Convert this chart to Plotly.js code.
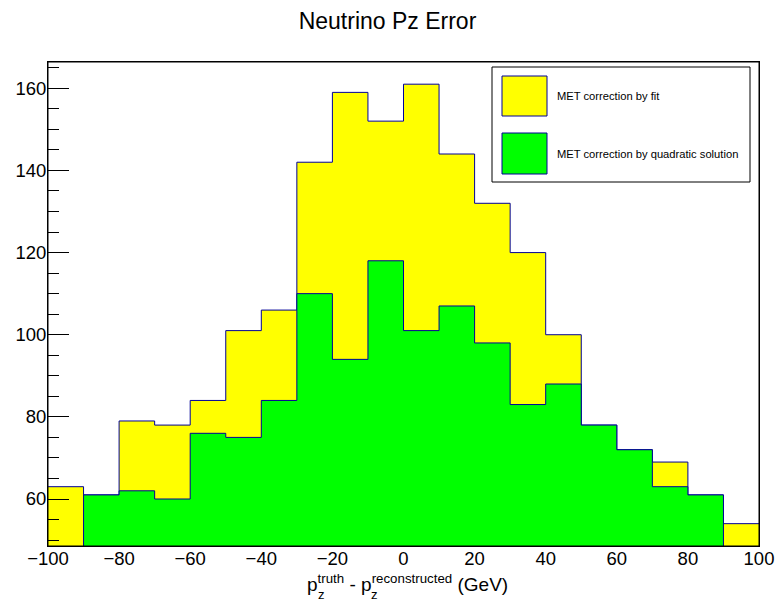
<!DOCTYPE html>
<html>
<head>
<meta charset="utf-8">
<script src="https://cdn.plot.ly/plotly-3.0.1.min.js"></script>
<style>html,body{margin:0;padding:0;background:#fff;} #chart{width:775px;height:602px;}</style>
</head>
<body>
<div id="chart"></div>
<script>
// ---- data ----
const binEdges = [-100,-90,-80,-70,-60,-50,-40,-30,-20,-10,0,10,20,30,40,50,60,70,80,90,100];
const fitCounts  = [63,61,79,78,84,101,106,142,159,152,161,144,132,120,100,78,72,69,61,54];
const quadCounts = [47,61,62,60,76,75,84,110,94,118,101,107,98,83,88,78,72,63,61,44];
const seriesNames = ["MET correction by fit", "MET correction by quadratic solution"];
const seriesColors = ["#ffff00", "#00ff00"];
const titleText = "Neutrino Pz Error";
const xTitleText = "p<sup>truth</sup> - p<sup>reconstructed</sup> (GeV)";
const xTitleSub = "z";

// ---- geometry ----
const W = 775, H = 602;
const M = {l: 48, r: 16, t: 62, b: 56};
const PW = W - M.l - M.r, PH = H - M.t - M.b;
const px = x => (x - M.l) / PW;
const py = y => (H - M.b - y) / PH;
const FONT = "Liberation Sans, Arial, Helvetica, sans-serif";
const LINE = "#000099";

function stepTrace(counts, color, name) {
  return {
    type: "scatter", mode: "lines", name: name,
    x: binEdges,
    y: counts.concat([counts[counts.length - 1]]),
    line: {shape: "hv", color: LINE, width: 1},
    fill: "tozeroy", fillcolor: color,
    hoverinfo: "skip", showlegend: false
  };
}

const traces = [
  stepTrace(fitCounts, seriesColors[0], seriesNames[0]),
  stepTrace(quadCounts, seriesColors[1], seriesNames[1])
];

const legendBox = {x0: 492, x1: 750, y0: 67, y1: 182};
const swatches = [{x0: 502, x1: 547, y0: 76, y1: 116, ty: 96}, {x0: 502, x1: 547, y0: 133, y1: 174, ty: 154}];

const shapes = [
  {type: "rect", xref: "paper", yref: "paper", x0: 0, x1: 1, y0: 0, y1: 1, line: {color: "#000", width: 1}, layer: "above"},
  {type: "rect", xref: "paper", yref: "paper", x0: px(legendBox.x0), x1: px(legendBox.x1), y0: py(legendBox.y1), y1: py(legendBox.y0), fillcolor: "#fff", line: {color: "#000", width: 1}, layer: "above"}
];
const annotations = [];
swatches.forEach((s, i) => {
  shapes.push({type: "rect", xref: "paper", yref: "paper", x0: px(s.x0), x1: px(s.x1), y0: py(s.y1), y1: py(s.y0), fillcolor: seriesColors[i], line: {color: LINE, width: 1}, layer: "above"});
  annotations.push({xref: "paper", yref: "paper", x: px(555), y: py(s.ty), xanchor: "left", yanchor: "middle", showarrow: false, text: seriesNames[i], font: {family: FONT, size: 11.2, color: "#000"}});
});

// x-axis title with stacked sub/superscripts
annotations.push({xref: "paper", yref: "paper", x: px(305), y: py(583), xanchor: "left", yanchor: "middle", showarrow: false, text: xTitleText, font: {family: FONT, size: 19, color: "#000"}});
annotations.push({xref: "paper", yref: "paper", x: px(315.5), y: py(594), xanchor: "left", yanchor: "middle", showarrow: false, text: xTitleSub, font: {family: FONT, size: 13, color: "#000"}});
annotations.push({xref: "paper", yref: "paper", x: px(369), y: py(594), xanchor: "left", yanchor: "middle", showarrow: false, text: xTitleSub, font: {family: FONT, size: 13, color: "#000"}});

const layout = {
  width: W, height: H,
  margin: M,
  paper_bgcolor: "#fff", plot_bgcolor: "#fff",
  font: {family: FONT, color: "#000"},
  title: {text: titleText, font: {family: FONT, size: 23, color: "#000"}, x: 0.5, xref: "container", xanchor: "center", y: 1 - 21 / H, yref: "container", yanchor: "middle"},
  showlegend: false,
  xaxis: {
    range: [-100, 100], tick0: -100, dtick: 20, ticks: "inside", ticklen: 14, tickcolor: "#000", tickwidth: 1,
    minor: {dtick: 5, ticks: "inside", ticklen: 7, tickcolor: "#000"},
    showgrid: false, zeroline: false, showline: true, linecolor: "#000", mirror: true,
    tickfont: {family: FONT, size: 18.5, color: "#000"}, ticklabelstandoff: -4,
    layer: "below traces", fixedrange: true
  },
  yaxis: {
    range: [48.56, 166.4], tick0: 0, dtick: 20, ticks: "inside", ticklen: 21, tickcolor: "#000", tickwidth: 1,
    minor: {dtick: 5, ticks: "inside", ticklen: 11, tickcolor: "#000"},
    showgrid: false, zeroline: false, showline: true, linecolor: "#000", mirror: true,
    tickfont: {family: FONT, size: 18.5, color: "#000"}, ticklabelstandoff: -3,
    layer: "above traces", fixedrange: true
  },
  shapes: shapes,
  annotations: annotations
};

Plotly.newPlot("chart", traces, layout, {displayModeBar: false, staticPlot: true});
</script>
</body>
</html>
